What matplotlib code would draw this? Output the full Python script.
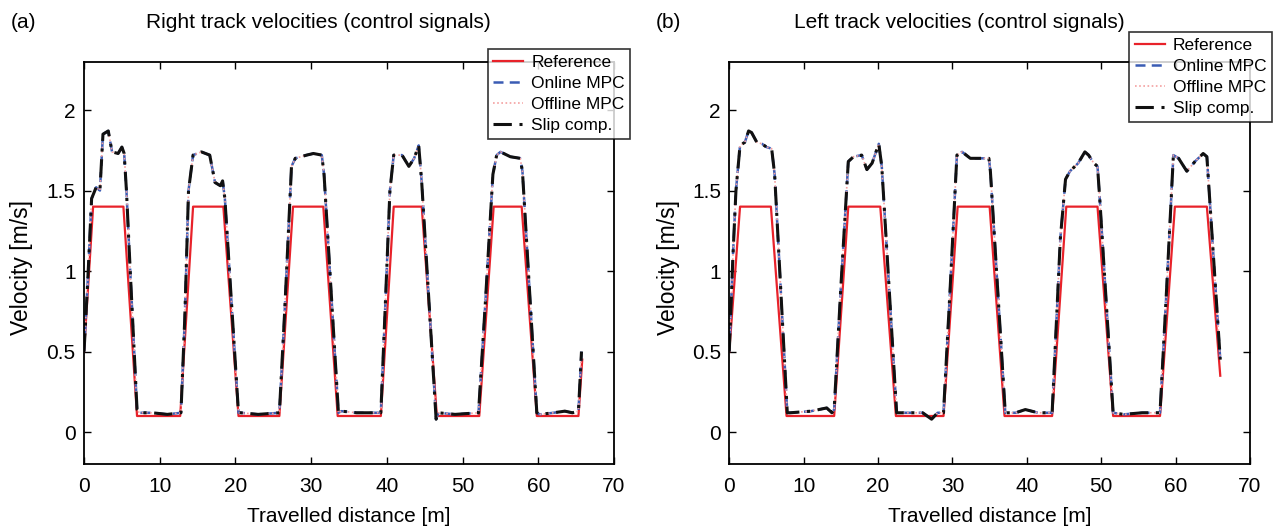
import numpy as np
import matplotlib.pyplot as plt

plt.rcParams['font.family'] = ['Liberation Sans', 'DejaVu Sans']

# reference velocity profiles [m], [m/s]
ref_r_x = [0, 1.2, 5.2, 7.0, 12.7, 14.4, 18.4, 20.4, 25.8, 27.6, 31.6, 33.5,
           39.2, 40.9, 44.6, 46.6, 52.2, 54.1, 57.8, 59.8, 65.3, 65.8]
ref_r_y = [0.5, 1.4, 1.4, 0.1, 0.1, 1.4, 1.4, 0.1, 0.1, 1.4, 1.4, 0.1,
           0.1, 1.4, 1.4, 0.1, 0.1, 1.4, 1.4, 0.1, 0.1, 0.45]

ref_l_x = [0, 1.45, 5.6, 7.7, 14.1, 16.0, 20.3, 22.4, 28.8, 30.7, 35.0, 37.0,
           43.4, 45.3, 49.5, 51.6, 57.9, 59.9, 64.2, 66.0]
ref_l_y = [0.5, 1.4, 1.4, 0.1, 0.1, 1.4, 1.4, 0.1, 0.1, 1.4, 1.4, 0.1,
           0.1, 1.4, 1.4, 0.1, 0.1, 1.4, 1.4, 0.35]

# control signals (online MPC / offline MPC / slip compensation overlap closely)
ctl_r_x = [0, 0.5, 1.0, 1.6, 2.1, 2.5, 3.2, 3.7, 4.5, 5.0, 5.3, 5.6, 6.1, 7.0, 7.3,
           9.0, 11.0, 12.8, 13.3, 13.8, 14.4, 15.5, 16.6, 17.3, 18.0, 18.3, 18.6,
           20.4, 20.7, 23.0, 25.8, 26.5, 27.4, 27.9, 29.4, 30.3, 31.4, 31.7, 33.6,
           34.0, 36.0, 39.2, 39.8, 40.4, 40.9, 42.0, 42.9, 43.6, 44.2, 44.6, 46.5,
           46.8, 49.0, 52.1, 53.0, 54.0, 54.5, 55.0, 56.3, 57.6, 57.9, 59.8, 60.2,
           62.0, 63.5, 64.5, 65.3, 65.7]
ctl_r_y = [0.5, 0.95, 1.45, 1.52, 1.5, 1.85, 1.87, 1.74, 1.73, 1.77, 1.73, 1.5, 1.0, 0.14, 0.12,
           0.12, 0.11, 0.12, 0.7, 1.5, 1.72, 1.74, 1.72, 1.55, 1.53, 1.56, 1.45,
           0.12, 0.12, 0.11, 0.12, 0.75, 1.65, 1.70, 1.72, 1.73, 1.72, 1.60, 0.12,
           0.13, 0.12, 0.12, 0.8, 1.5, 1.72, 1.72, 1.65, 1.70, 1.78, 1.55, 0.08,
           0.12, 0.11, 0.12, 0.8, 1.6, 1.72, 1.74, 1.71, 1.70, 1.62, 0.12, 0.11,
           0.12, 0.13, 0.12, 0.13, 0.5]

ctl_l_x = [0, 0.5, 0.9, 1.45, 2.1, 2.6, 3.0, 3.7, 4.4, 5.0, 5.7, 6.1, 7.8, 8.2,
           11.0, 13.1, 13.8, 14.1, 15.0, 16.0, 16.7, 17.8, 18.5, 19.2, 20.1, 20.5,
           22.5, 23.0, 26.0, 27.2, 28.0, 28.8, 29.7, 30.6, 31.3, 32.4, 33.7, 34.9,
           35.1, 37.1, 38.5, 39.8, 41.5, 43.4, 44.5, 45.2, 45.8, 46.9, 47.8, 48.3,
           49.0, 49.5, 49.8, 51.6, 53.0, 55.5, 57.9, 58.8, 59.7, 60.4, 61.5, 62.6,
           63.7, 64.2, 66.0]
ctl_l_y = [0.5, 1.1, 1.5, 1.78, 1.80, 1.87, 1.86, 1.80, 1.79, 1.77, 1.76, 1.6, 0.12, 0.12,
           0.13, 0.15, 0.12, 0.14, 0.9, 1.68, 1.71, 1.72, 1.63, 1.67, 1.79, 1.65,
           0.12, 0.12, 0.12, 0.08, 0.12, 0.12, 0.9, 1.72, 1.74, 1.70, 1.70, 1.70,
           1.62, 0.12, 0.12, 0.14, 0.12, 0.12, 1.2, 1.57, 1.62, 1.67, 1.74, 1.72,
           1.67, 1.65, 1.45, 0.12, 0.11, 0.12, 0.12, 0.9, 1.72, 1.70, 1.62, 1.68,
           1.73, 1.71, 0.45]

panels = [
    ('(a)', 'Right track velocities (control signals)', ref_r_x, ref_r_y, ctl_r_x, ctl_r_y),
    ('(b)', 'Left track velocities (control signals)', ref_l_x, ref_l_y, ctl_l_x, ctl_l_y),
]
axes_pos = [[0.0655, 0.1256, 0.4131, 0.7582], [0.5684, 0.1256, 0.4059, 0.7582]]
legend_center = [(0.4357, 0.823), (0.9357, 0.855)]
title_x = [0.248, 0.7475]
tag_x = [0.008, 0.511]

fig = plt.figure(figsize=(12.83, 5.31), dpi=100)
fs = 15

for i, (tag, title, rx, ry, cx, cy) in enumerate(panels):
    ax = fig.add_axes(axes_pos[i])
    ax.plot(rx, ry, color='#e8222a', lw=1.6, label='Reference')
    ax.plot(cx, cy, color='#3a5cb4', lw=1.8, ls=(0, (4, 2.5)), label='Online MPC')
    ax.plot(cx, cy, color='#f4a0a0', lw=1.2, ls=(0, (1, 1.5)), label='Offline MPC')
    ax.plot(cx, cy, color='#111111', lw=2.2, ls=(0, (6, 2.5, 1, 2.5)), label='Slip comp.')
    ax.set_xlim(0, 70)
    ax.set_ylim(-0.2, 2.3)
    ax.set_xticks(range(0, 71, 10))
    ax.set_yticks([0, 0.5, 1, 1.5, 2])
    ax.set_yticklabels(['0', '0.5', '1', '1.5', '2'])
    ax.tick_params(direction='in', top=True, right=True, labelsize=fs, length=5, width=1)
    ax.tick_params(axis='x', pad=9)
    ax.tick_params(axis='y', pad=6)
    for s in ax.spines.values():
        s.set_linewidth(1.3)
    ax.set_xlabel('Travelled distance [m]', fontsize=fs)
    ax.set_ylabel('Velocity [m/s]', fontsize=16.5)
    ax.xaxis.set_label_coords(0.5, -0.13)
    ax.yaxis.set_label_coords(-0.1175, 0.49)
    ax.xaxis.label.set_va('center')
    ax.yaxis.label.set_va('center')
    fig.text(title_x[i], 0.947, title, fontsize=fs, ha='center', va='baseline')
    fig.text(tag_x[i], 0.947, tag, fontsize=fs, va='baseline')
    leg = ax.legend(loc='center', bbox_to_anchor=legend_center[i], bbox_transform=fig.transFigure,
                    fontsize=12.5, frameon=True, fancybox=False, edgecolor='black',
                    handlelength=1.75, borderpad=0.3, labelspacing=0.35, handletextpad=0.45,
                    borderaxespad=0)
    leg.get_frame().set_linewidth(1.2)
    leg.set_zorder(5)

fig.savefig('out.png', dpi=100)
